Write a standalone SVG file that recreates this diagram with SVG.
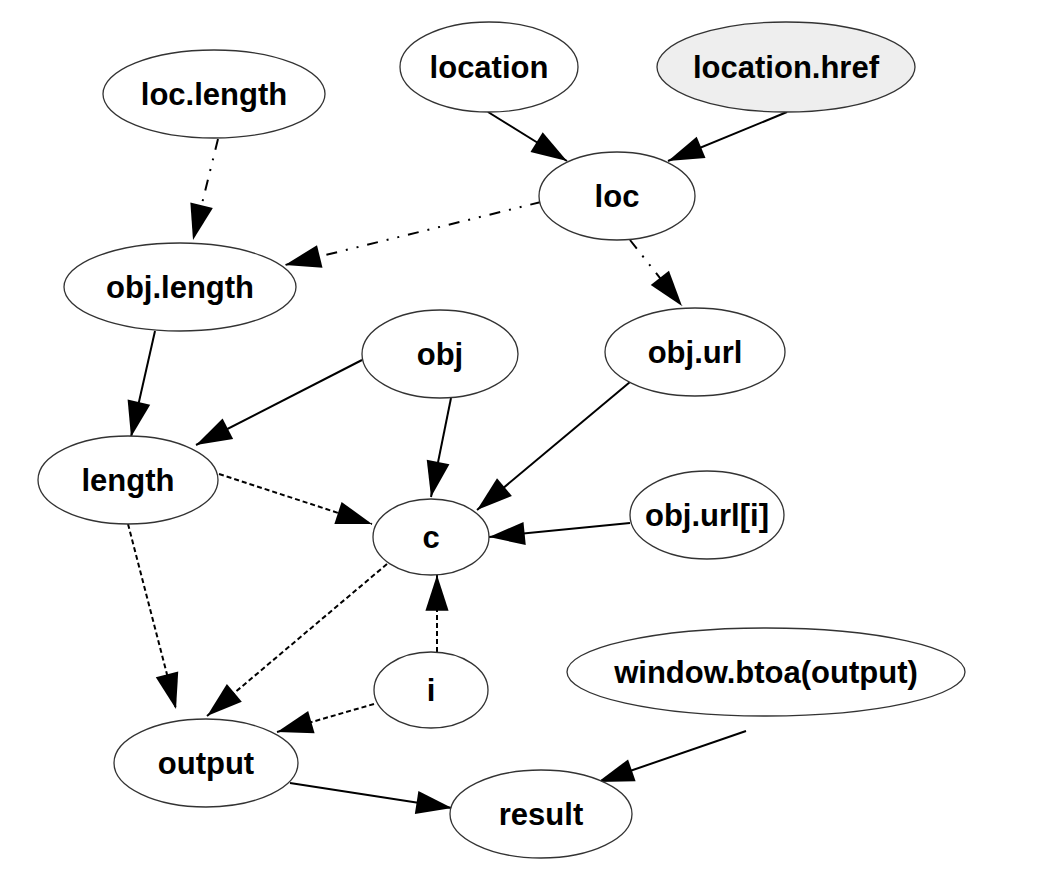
<svg xmlns="http://www.w3.org/2000/svg" width="1038" height="872" viewBox="0 0 1038 872">
<style>
.n ellipse{fill:#ffffff;stroke:#333333;stroke-width:1.3}
.n text{font-family:"Liberation Sans",Arial,sans-serif;font-weight:bold;font-size:31px;text-anchor:middle;fill:#000}
.e{stroke:#000;stroke-width:2;fill:none;marker-end:url(#ah)}
.dd{stroke-dasharray:11 9 2 9 2 9}
.da{stroke-dasharray:5 3}
</style>
<defs>
<marker id="ah" markerUnits="userSpaceOnUse" markerWidth="40" markerHeight="30" viewBox="-36 -13 38 26" refX="0" refY="0" orient="auto">
<path d="M0,0 L-34,-11 L-34,11 Z" fill="#000"/>
</marker>
</defs>
<rect width="1038" height="872" fill="#fff"/>
<g id="edges">
<line class="e dd" x1="218" y1="139" x2="193" y2="240"/>
<line class="e" x1="488" y1="112" x2="567" y2="161"/>
<line class="e" x1="787" y1="112" x2="668" y2="161"/>
<line class="e dd" x1="541" y1="202" x2="285" y2="265"/>
<line class="e dd" x1="630" y1="240" x2="682" y2="306"/>
<line class="e" x1="155" y1="331" x2="131" y2="437"/>
<line class="e" x1="362" y1="360" x2="196" y2="445"/>
<line class="e" x1="451" y1="398" x2="431" y2="497"/>
<line class="e" x1="630" y1="382" x2="477" y2="510"/>
<line class="e da" x1="219" y1="474" x2="372" y2="524"/>
<line class="e" x1="630" y1="523" x2="489" y2="537"/>
<line class="e da" x1="128" y1="524" x2="176" y2="709"/>
<line class="e da" x1="387" y1="564" x2="207" y2="716"/>
<line class="e da" x1="437" y1="652" x2="437" y2="575"/>
<line class="e da" x1="374" y1="704" x2="277" y2="732"/>
<line class="e" x1="746" y1="731" x2="598" y2="782"/>
<line class="e" x1="290" y1="783" x2="452" y2="808"/>
</g>
<g id="loc.length" class="n"><ellipse cx="214" cy="94" rx="111" ry="44"/><text x="214" y="105">loc.length</text></g>
<g id="location" class="n"><ellipse cx="489" cy="67" rx="89" ry="45"/><text x="489" y="78">location</text></g>
<g id="location.href" class="n"><ellipse cx="786" cy="67" rx="129" ry="45" style="fill:#eeeeee"/><text x="786" y="78">location.href</text></g>
<g id="loc" class="n"><ellipse cx="617" cy="196" rx="78" ry="44"/><text x="617" y="207">loc</text></g>
<g id="obj.length" class="n"><ellipse cx="180" cy="287" rx="116" ry="44"/><text x="180" y="298">obj.length</text></g>
<g id="obj" class="n"><ellipse cx="440" cy="354" rx="78" ry="44"/><text x="440" y="365">obj</text></g>
<g id="obj.url" class="n"><ellipse cx="695" cy="352" rx="90" ry="44"/><text x="695" y="363">obj.url</text></g>
<g id="length" class="n"><ellipse cx="128" cy="480" rx="90" ry="44"/><text x="128" y="491">length</text></g>
<g id="c" class="n"><ellipse cx="431" cy="537" rx="58" ry="38"/><text x="431" y="548">c</text></g>
<g id="obj.url[i]" class="n"><ellipse cx="707" cy="515" rx="77" ry="44"/><text x="707" y="526">obj.url[i]</text></g>
<g id="i" class="n"><ellipse cx="431" cy="690" rx="57" ry="38"/><text x="431" y="701">i</text></g>
<g id="window.btoa(output)" class="n"><ellipse cx="766" cy="672" rx="199" ry="44"/><text x="766" y="683">window.btoa(output)</text></g>
<g id="output" class="n"><ellipse cx="206" cy="763" rx="92" ry="44"/><text x="206" y="774">output</text></g>
<g id="result" class="n"><ellipse cx="541" cy="814" rx="91" ry="44"/><text x="541" y="825">result</text></g>
</svg>
